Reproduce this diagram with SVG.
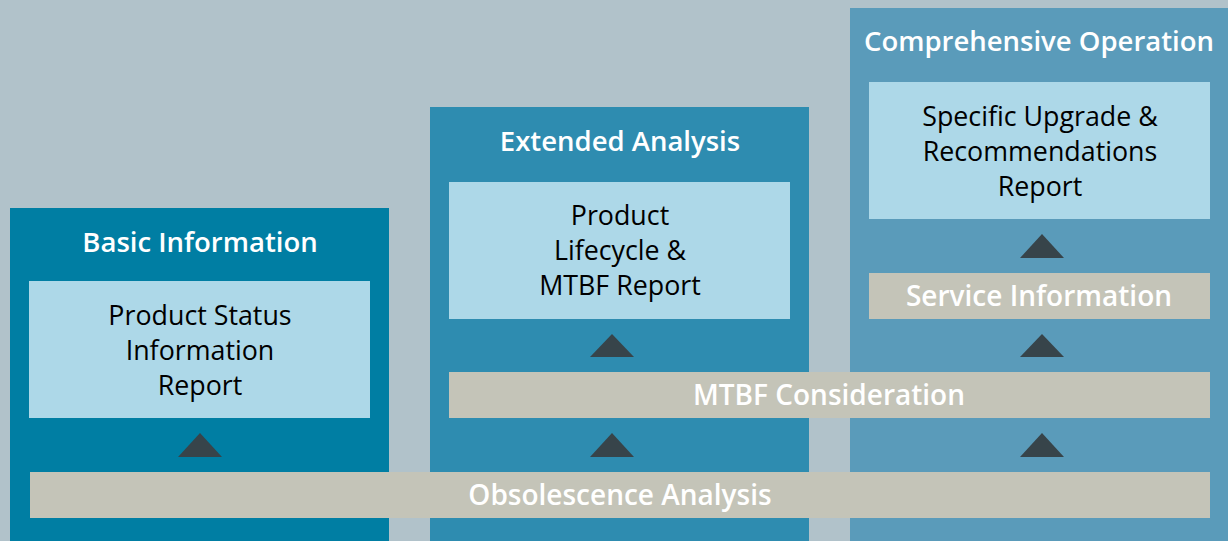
<svg xmlns="http://www.w3.org/2000/svg" width="1228" height="541" viewBox="0 0 1228 541">
<style>
.title{font-family:"Open Sans","Noto Sans",sans-serif;font-weight:600;font-size:27.5px;fill:#fff;text-anchor:middle}
.body{font-family:"Open Sans","Noto Sans",sans-serif;font-size:26.8px;fill:#000;text-anchor:middle}
.bar{fill:#c4c4b8}
.barlabel{font-family:"Open Sans","Noto Sans",sans-serif;font-weight:600;font-size:28px;fill:#fff;text-anchor:middle}
.inner{fill:#add8e8}
.arrow{fill:#37444a}
</style>
<rect width="1228" height="541" fill="#b1c2ca"/>
<g id="col-basic">
<rect x="10" y="208" width="379" height="333" fill="#007ea3"/>
<text class="title" x="200" y="252">Basic Information</text>
</g>
<g id="col-extended">
<rect x="430" y="107" width="379" height="434" fill="#2e8cb0"/>
<text class="title" x="620" y="151">Extended Analysis</text>
</g>
<g id="col-comprehensive">
<rect x="850" y="8" width="378" height="533" fill="#5a9bba"/>
<text class="title" x="1039" y="51">Comprehensive Operation</text>
</g>
<g id="report-basic">
<rect class="inner" x="29" y="281" width="341" height="137"/>
<text class="body" x="200" y="325">Product Status</text>
<text class="body" x="200" y="360">Information</text>
<text class="body" x="200" y="395">Report</text>
</g>
<g id="report-extended">
<rect class="inner" x="449" y="182" width="341" height="137"/>
<text class="body" x="620" y="225">Product</text>
<text class="body" x="620" y="260">Lifecycle &amp;</text>
<text class="body" x="620" y="295">MTBF Report</text>
</g>
<g id="report-comprehensive">
<rect class="inner" x="869" y="82" width="341" height="137"/>
<text class="body" x="1040" y="126">Specific Upgrade &amp;</text>
<text class="body" x="1040" y="161">Recommendations</text>
<text class="body" x="1040" y="196">Report</text>
</g>
<g id="bar-service">
<rect class="bar" x="869" y="273" width="341" height="46"/>
<text class="barlabel" x="1039" y="306">Service Information</text>
</g>
<g id="bar-mtbf">
<rect class="bar" x="449" y="372" width="761" height="46"/>
<text class="barlabel" x="829" y="405">MTBF Consideration</text>
</g>
<g id="bar-obsolescence">
<rect class="bar" x="30" y="472" width="1180" height="46"/>
<text class="barlabel" x="620" y="505">Obsolescence Analysis</text>
</g>
<g id="connectors">
<polygon class="arrow" points="178,457 200,433 222,457"/>
<polygon class="arrow" points="590,457 612,433 634,457"/>
<polygon class="arrow" points="590,357 612,334 634,357"/>
<polygon class="arrow" points="1020,457 1042,433 1064,457"/>
<polygon class="arrow" points="1020,357 1042,334 1064,357"/>
<polygon class="arrow" points="1020,258 1042,234 1064,258"/>
</g>
</svg>
